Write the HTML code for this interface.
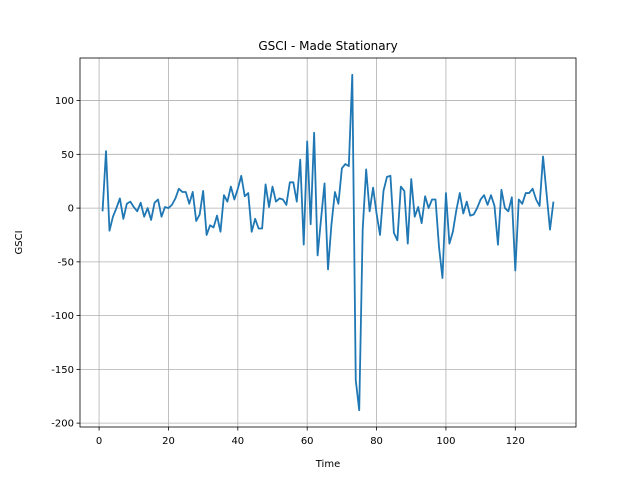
<!DOCTYPE html>
<html><head><meta charset="utf-8"><style>
body{margin:0;background:#fff;font-family:"Liberation Sans","DejaVu Sans",sans-serif}
text{font-family:"DejaVu Sans","Liberation Sans",sans-serif}
</style></head><body>
<svg id="chart" width="640" height="480" xmlns="http://www.w3.org/2000/svg"></svg>
<script>
const values=[-3,53,-21,-8,0,9,-10,4,6,1,-3,5,-8,0,-11,5,8,-8,1,0,3,9,18,15,15,4,15,-12,-6,16,-25,-16,-18,-7,-22,12,6,20,8,18,30,11,14,-22,-10,-19,-19,22,1,20,6,9,8,3,24,24,6,45,-34,62,-15,70,-44,-10,23,-57,-15,15,4,37,41,39,124,-160,-188,-20,36,-3,19,-5,-25,16,29,30,-23,-30,20,16,-33,27,-8,1,-14,11,0,8,8,-36,-65,14,-33,-22,-2,14,-5,6,-7,-6,0,8,12,3,12,2,-34,17,0,-3,10,-58,8,4,14,14,18,8,2,48,14,-20,6];
const xTicks=[0,20,40,60,80,100,120];
const yTicks=[-200,-150,-100,-50,0,50,100];
const NS="http://www.w3.org/2000/svg";
const svg=document.getElementById('chart');
const L=80,R=576,T=58,B=427;
const xs=values.map((v,i)=>i+1);
const xmin=Math.min(...xs),xmax=Math.max(...xs),xm=(xmax-xmin)*0.05;
const ymin=Math.min(...values),ymax=Math.max(...values),ym=(ymax-ymin)*0.05;
const X=v=>L+(v-(xmin-xm))/((xmax+xm)-(xmin-xm))*(R-L);
const Y=v=>B-(v-(ymin-ym))/((ymax+ym)-(ymin-ym))*(B-T);
function el(t,a,txt){const e=document.createElementNS(NS,t);for(const k in a)e.setAttribute(k,a[k]);if(txt!==undefined)e.textContent=txt;svg.appendChild(e);return e;}
xTicks.forEach(t=>{const x=X(t);
const g=el('line',{x1:x,x2:x,y1:T,y2:B,stroke:'#b0b0b0','stroke-width':0.8});

const k=el('line',{x1:x,x2:x,y1:B,y2:B+3.5,stroke:'#000','stroke-width':0.8});

const l=el('text',{x:x,y:B+17,'font-size':10,'text-anchor':'middle'},t);
});
yTicks.forEach(t=>{const y=Y(t);
const g=el('line',{x1:L,x2:R,y1:y,y2:y,stroke:'#b0b0b0','stroke-width':0.8});

const k=el('line',{x1:L-3.5,x2:L,y1:y,y2:y,stroke:'#000','stroke-width':0.8});

const l=el('text',{x:L-6,y:y+3.5,'font-size':10,'text-anchor':'end'},t);
});
const p=el('polyline',{points:values.map((v,i)=>X(xs[i])+','+Y(v)).join(' '),fill:'none',stroke:'#1f77b4','stroke-width':1.8,'stroke-linejoin':'round'});

const f=el('rect',{x:L,y:T,width:R-L,height:B-T,fill:'none',stroke:'#000','stroke-width':0.8});

const ti=el('text',{x:(L+R)/2,y:T-8,'font-size':12,'text-anchor':'middle'},'GSCI - Made Stationary');

const xt=el('text',{x:(L+R)/2,y:467,'font-size':10,'text-anchor':'middle'},'Time');

const yt=el('text',{x:0,y:0,'font-size':10,'text-anchor':'middle',transform:'translate(22,'+((T+B)/2)+') rotate(-90)'},'GSCI');

</script>
</body></html>
